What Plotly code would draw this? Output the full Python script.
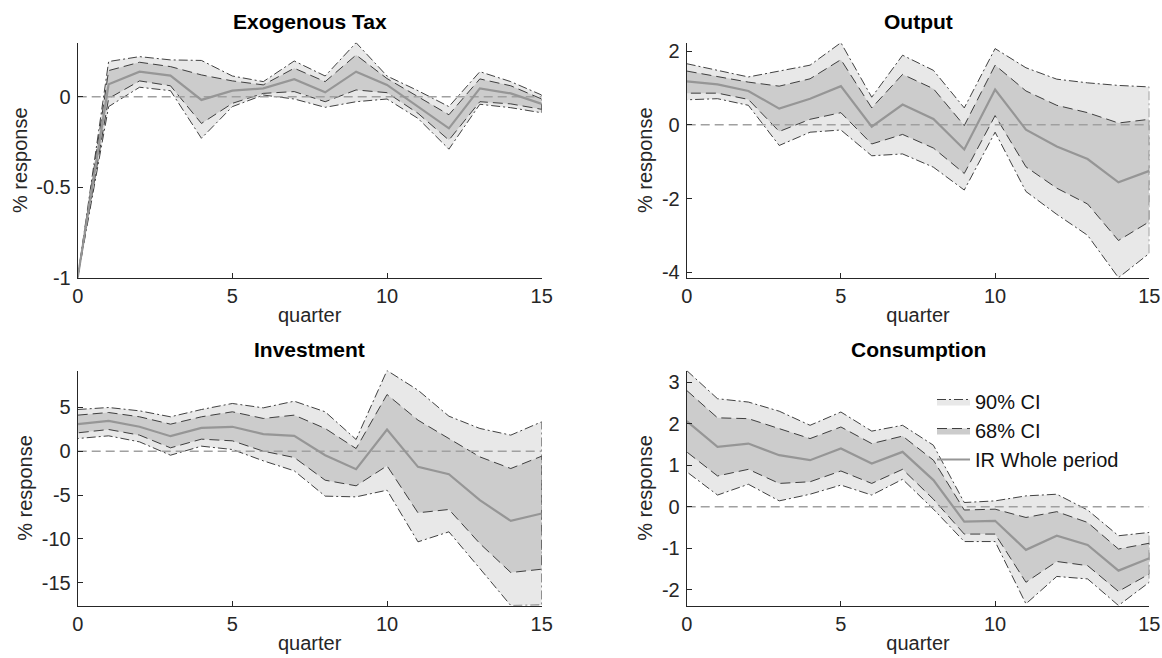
import plotly.graph_objects as go

quarters = list(range(16))

# ---- Exogenous Tax ----
tax_ir   = [-1.0, 0.068, 0.138, 0.116, -0.018, 0.033, 0.046, 0.096, 0.024, 0.138, 0.065, -0.055, -0.175, 0.046, 0.018, -0.040]
tax_hi68 = [-1.0, 0.144, 0.190, 0.166, 0.120, 0.087, 0.065, 0.157, 0.083, 0.230, 0.100, 0.000, -0.100, 0.098, 0.060, -0.013]
tax_lo68 = [-1.0, -0.010, 0.087, 0.060, -0.148, -0.037, 0.018, 0.028, -0.028, 0.037, 0.022, -0.092, -0.240, -0.028, -0.040, -0.070]
tax_hi90 = [-1.0, 0.194, 0.221, 0.203, 0.200, 0.114, 0.083, 0.197, 0.114, 0.298, 0.114, 0.033, -0.055, 0.138, 0.083, 0.009]
tax_lo90 = [-1.0, -0.055, 0.052, 0.033, -0.230, -0.055, 0.009, -0.013, -0.059, -0.028, -0.013, -0.120, -0.290, -0.042, -0.061, -0.089]

# ---- Output ----
out_ir   = [1.18, 1.10, 0.92, 0.44, 0.71, 1.05, -0.05, 0.55, 0.16, -0.67, 0.96, -0.13, -0.59, -0.93, -1.56, -1.25]
out_hi68 = [1.46, 1.32, 1.16, 1.05, 1.25, 1.77, 0.46, 1.37, 0.98, -0.02, 1.62, 0.92, 0.53, 0.33, 0.05, 0.15]
out_lo68 = [0.86, 0.86, 0.69, -0.18, 0.15, 0.33, -0.52, -0.26, -0.63, -1.32, 0.25, -1.14, -1.72, -2.15, -3.14, -2.63]
out_hi90 = [1.66, 1.48, 1.30, 1.46, 1.62, 2.23, 0.75, 1.89, 1.48, 0.46, 2.07, 1.55, 1.24, 1.14, 1.07, 1.03]
out_lo90 = [0.68, 0.71, 0.53, -0.56, -0.20, -0.14, -0.84, -0.79, -1.15, -1.77, -0.20, -1.81, -2.43, -3.00, -4.15, -3.49]

# ---- Investment ----
inv_ir   = [3.08, 3.46, 2.78, 1.71, 2.66, 2.78, 1.94, 1.75, -0.46, -2.05, 2.47, -1.79, -2.62, -5.59, -7.95, -7.11]
inv_hi68 = [4.11, 4.41, 3.92, 3.08, 3.92, 4.49, 3.73, 4.11, 2.59, 0.30, 6.46, 3.54, 1.44, -0.65, -1.98, -0.57]
inv_lo68 = [2.09, 2.47, 1.83, 0.38, 1.37, 1.18, 0.00, -0.72, -3.31, -3.95, -1.67, -7.03, -6.65, -10.53, -13.84, -13.46]
inv_hi90 = [4.75, 4.98, 4.60, 3.92, 4.75, 5.44, 4.94, 5.70, 4.49, 1.33, 9.20, 6.96, 3.99, 2.59, 1.83, 3.35]
inv_lo90 = [1.44, 1.75, 1.06, -0.46, 0.57, 0.19, -1.10, -2.24, -5.13, -5.21, -4.45, -10.34, -9.20, -13.38, -17.60, -17.55]

# ---- Consumption ----
con_ir   = [2.06, 1.44, 1.52, 1.24, 1.12, 1.40, 1.04, 1.32, 0.64, -0.36, -0.34, -1.04, -0.70, -0.92, -1.54, -1.24]
con_hi68 = [2.80, 2.14, 2.12, 1.88, 1.64, 1.92, 1.52, 1.70, 1.12, -0.08, -0.06, -0.26, -0.12, -0.38, -1.02, -0.88]
con_lo68 = [1.32, 0.74, 0.90, 0.56, 0.60, 0.86, 0.56, 0.90, 0.18, -0.66, -0.66, -1.82, -1.32, -1.42, -2.04, -1.62]
con_hi90 = [3.28, 2.60, 2.52, 2.30, 1.96, 2.28, 1.82, 1.96, 1.48, 0.10, 0.14, 0.26, 0.30, -0.08, -0.70, -0.62]
con_lo90 = [0.84, 0.28, 0.54, 0.14, 0.30, 0.52, 0.28, 0.66, -0.06, -0.84, -0.84, -2.34, -1.68, -1.74, -2.38, -1.82]

titles = ["Exogenous Tax", "Output", "Investment", "Consumption"]
tick_sets = [[-1, -0.5, 0], [-4, -2, 0, 2], [-15, -10, -5, 0, 5], [-2, -1, 0, 1, 2, 3]]
x_ticks = [0, 5, 10, 15]
legend_names = ["90% CI", "68% CI", "IR Whole period"]

panels = [
    (tax_ir, tax_lo68, tax_hi68, tax_lo90, tax_hi90),
    (out_ir, out_lo68, out_hi68, out_lo90, out_hi90),
    (inv_ir, inv_lo68, inv_hi68, inv_lo90, inv_hi90),
    (con_ir, con_lo68, con_hi68, con_lo90, con_hi90),
]

W, H = 1162, 658
xdom = [[77.7 / W, 541.7 / W], [686.7 / W, 1149.3 / W]]
ydom = [[1 - 277.7 / H, 1 - 42.7 / H], [1 - 605.5 / H, 1 - 370.5 / H]]

FONT = "Liberation Sans, Arial, Helvetica, sans-serif"
AX = "#262626"
fill90 = "rgb(232,232,232)"
fill68 = "rgb(204,204,204)"
edge = "rgb(45,45,45)"
ir_col = "rgb(150,150,150)"
zero_col = "rgb(160,160,160)"

fig = go.Figure()
layout = dict(
    width=W, height=H,
    autosize=False,
    margin=dict(l=0, r=0, t=0, b=0, pad=0),
    paper_bgcolor="white", plot_bgcolor="white",
    font=dict(family=FONT, size=20, color=AX),
    showlegend=True,
    legend=dict(x=932 / W, y=1 - 382 / H, xanchor="left", yanchor="top",
                bgcolor="rgba(0,0,0,0)", borderwidth=0,
                font=dict(family=FONT, size=20, color="#111111"),
                itemwidth=33, tracegroupgap=0),
)
annotations = []

for i, (ir, lo68, hi68, lo90, hi90) in enumerate(panels):
    row, col = divmod(i, 2)
    n = "" if i == 0 else str(i + 1)
    xa, ya = "x" + n, "y" + n
    is_leg = (i == 3)
    poly_x = quarters + quarters[::-1]
    fig.add_trace(go.Scatter(
        x=poly_x, y=hi90 + lo90[::-1], xaxis=xa, yaxis=ya, mode="lines",
        fill="toself", fillcolor=fill90,
        line=dict(color=edge, width=0.9, dash="9px,3px,2px,3px"),
        name=legend_names[0], showlegend=is_leg, hoverinfo="skip"))
    fig.add_trace(go.Scatter(
        x=poly_x, y=hi68 + lo68[::-1], xaxis=xa, yaxis=ya, mode="lines",
        fill="toself", fillcolor=fill68,
        line=dict(color=edge, width=0.9, dash="10px,5px"),
        name=legend_names[1], showlegend=is_leg, hoverinfo="skip"))
    fig.add_trace(go.Scatter(
        x=[quarters[0], quarters[-1]], y=[0, 0], xaxis=xa, yaxis=ya, mode="lines",
        line=dict(color=zero_col, width=1.5, dash="9px,5px"),
        showlegend=False, hoverinfo="skip"))
    fig.add_trace(go.Scatter(
        x=quarters, y=ir, xaxis=xa, yaxis=ya, mode="lines",
        line=dict(color=ir_col, width=2.2),
        name=legend_names[2], showlegend=is_leg))

    yr = [min(lo90), max(hi90)]
    tv = tick_sets[i]
    layout["xaxis" + n] = dict(
        domain=xdom[col], anchor=ya, range=[0, 15], automargin=False,
        tickvals=x_ticks, ticktext=[str(v) for v in x_ticks],
        ticks="inside", ticklen=5, tickcolor=AX, tickwidth=1,
        showline=True, linecolor=AX, linewidth=1, mirror=False,
        showgrid=False, zeroline=False,
        tickfont=dict(family=FONT, size=20, color=AX),
        title=dict(text="quarter", font=dict(family=FONT, size=20, color=AX), standoff=2),
    )
    layout["yaxis" + n] = dict(
        domain=ydom[row], anchor=xa, range=yr, automargin=False,
        tickvals=tv, ticktext=[("%g" % v) for v in tv],
        ticks="inside", ticklen=5, tickcolor=AX, tickwidth=1,
        showline=True, linecolor=AX, linewidth=1, mirror=False,
        showgrid=False, zeroline=False,
        tickfont=dict(family=FONT, size=20, color=AX),
        ticklabelstandoff=2,
        title=dict(text="% response", font=dict(family=FONT, size=20, color=AX), standoff=3),
    )
    annotations.append(dict(
        text="<b>" + titles[i] + "</b>", xref="paper", yref="paper",
        x=(xdom[col][0] + xdom[col][1]) / 2, y=ydom[row][1],
        xanchor="center", yanchor="bottom", yshift=8, showarrow=False,
        font=dict(family=FONT, size=21, color="#000000")))

layout["annotations"] = annotations
fig.update_layout(**layout)
fig.write_html(
    "out.html",
    config={"displayModeBar": False},
    post_script="document.body.style.margin='0px';document.body.style.overflow='hidden';",
)
